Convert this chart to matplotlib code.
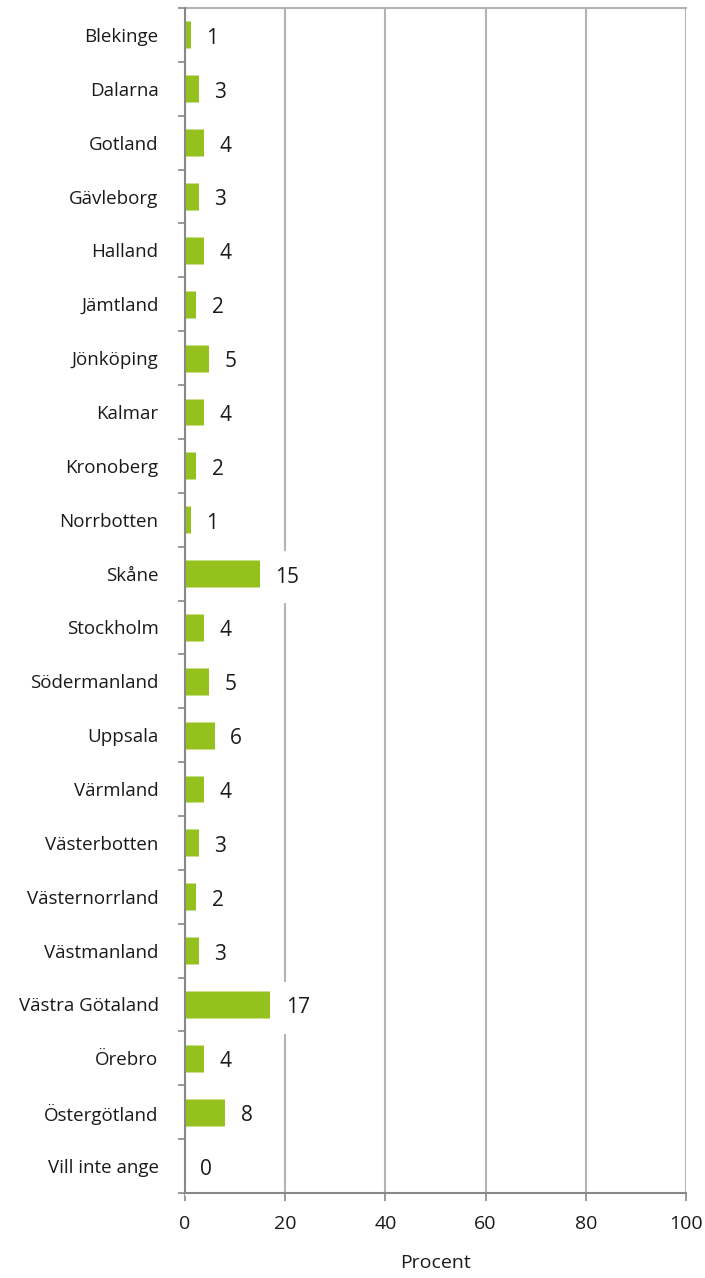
import matplotlib
matplotlib.use("Agg")
import matplotlib.pyplot as plt

categories = ["Blekinge", "Dalarna", "Gotland", "Gävleborg", "Halland", "Jämtland",
              "Jönköping", "Kalmar", "Kronoberg", "Norrbotten", "Skåne", "Stockholm",
              "Södermanland", "Uppsala", "Värmland", "Västerbotten", "Västernorrland",
              "Västmanland", "Västra Götaland", "Örebro", "Östergötland", "Vill inte ange"]
values = [1.25, 2.8, 3.9, 2.8, 3.9, 2.3, 4.95, 3.9, 2.3, 1.25, 15.0, 3.9,
          4.95, 6.0, 3.9, 2.8, 2.3, 2.8, 17.1, 3.9, 8.1, 0.0]
labels = ["1", "3", "4", "3", "4", "2", "5", "4", "2", "1", "15", "4",
          "5", "6", "4", "3", "2", "3", "17", "4", "8", "0"]
xticks = [0, 20, 40, 60, 80, 100]

plt.rcParams['font.family'] = ['Open Sans', 'DejaVu Sans']

fig = plt.figure(figsize=(7.05, 12.78), dpi=100)
ax = fig.add_axes([185/705, 1 - 1193/1278, (686-185)/705, (1193-8)/1278])

n = len(categories)
ypos = list(range(n))
ax.barh(ypos, values, height=0.5, color="#95c11f", edgecolor="#c9e08a", linewidth=0.6, zorder=3)

for y, v, lab in zip(ypos, values, labels):
    ax.annotate(lab, xy=(v, y), xytext=(11, -2.5), textcoords="offset points",
                ha="left", va="center", fontsize=15, color="#1a1a1a", zorder=5,
                bbox=dict(boxstyle="square,pad=0.75", facecolor="white", edgecolor="none"))

ax.set_xlim(0, 100)
ax.set_ylim(n - 0.5, -0.5)
ax.set_xticks(xticks)
ax.set_xticklabels([str(t) for t in xticks], fontsize=14, color="#1a1a1a")
ax.set_yticks(ypos)
ax.set_yticklabels(categories, fontsize=13.5, color="#1a1a1a")
ax.tick_params(axis="y", length=0, pad=19)
ax.set_yticks([i + 0.5 for i in range(-1, n)], minor=True)
ax.tick_params(axis="y", which="minor", length=5, color="#888888", width=1.2)
ax.tick_params(axis="x", length=6, color="#888888", width=1.2, pad=10)

ax.grid(axis="x", color="#b3b3b3", linewidth=1.5, zorder=0)
for s in ["left", "bottom"]:
    ax.spines[s].set_color("#888888")
    ax.spines[s].set_linewidth(1.5)
    ax.spines[s].set_zorder(6)
ax.spines["top"].set_color("#b3b3b3")
ax.spines["top"].set_linewidth(1.5)
ax.spines["right"].set_visible(False)

ax.set_xlabel("Procent", fontsize=14, color="#1a1a1a", labelpad=15)

fig.savefig("out.png", dpi=100)
